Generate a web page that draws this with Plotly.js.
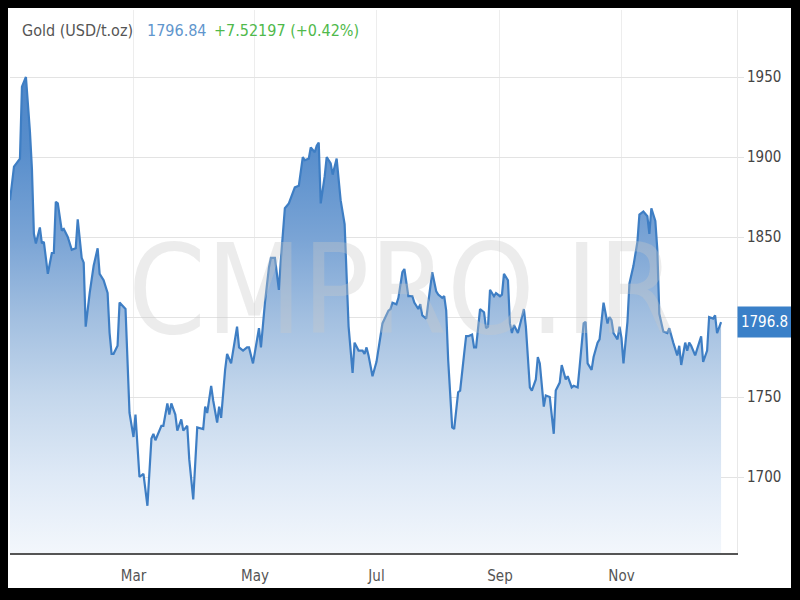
<!DOCTYPE html>
<html><head><meta charset="utf-8">
<script src="https://cdn.plot.ly/plotly-3.0.1.min.js"></script>
<style>
html,body{margin:0;padding:0;background:#000;width:800px;height:600px;overflow:hidden;}
#chart{position:absolute;left:8px;top:8px;width:783px;height:580px;background:#fff;}
</style></head><body><div id="chart"></div>
<script>
const dates = [
'2020-12-29','2020-12-31','2021-01-03','2021-01-04','2021-01-06','2021-01-07','2021-01-08','2021-01-09','2021-01-10','2021-01-11',
'2021-01-13','2021-01-14','2021-01-15','2021-01-17','2021-01-19','2021-01-20','2021-01-21','2021-01-22','2021-01-24','2021-01-25',
'2021-01-27','2021-01-29','2021-01-31','2021-02-01','2021-02-03','2021-02-04','2021-02-05','2021-02-07','2021-02-09','2021-02-11',
'2021-02-12','2021-02-14','2021-02-16','2021-02-17','2021-02-18','2021-02-19','2021-02-21','2021-02-22','2021-02-24','2021-02-25',
'2021-02-27','2021-03-01','2021-03-02','2021-03-04','2021-03-06','2021-03-08','2021-03-10','2021-03-11','2021-03-12','2021-03-15',
'2021-03-16','2021-03-18','2021-03-19','2021-03-20','2021-03-22','2021-03-23','2021-03-25','2021-03-26','2021-03-28','2021-03-29',
'2021-03-31','2021-04-02','2021-04-05','2021-04-06','2021-04-07','2021-04-09','2021-04-10','2021-04-12','2021-04-13','2021-04-14',
'2021-04-16','2021-04-17','2021-04-19','2021-04-22','2021-04-23','2021-04-25','2021-04-27','2021-04-28','2021-04-30','2021-05-03',
'2021-05-04','2021-05-06','2021-05-08','2021-05-09','2021-05-11','2021-05-13','2021-05-14','2021-05-16','2021-05-18','2021-05-20',
'2021-05-21','2021-05-23','2021-05-25','2021-05-26','2021-05-28','2021-05-29','2021-05-31','2021-06-01','2021-06-02','2021-06-03',
'2021-06-05','2021-06-06','2021-06-08','2021-06-09','2021-06-11','2021-06-13','2021-06-15','2021-06-17','2021-06-19','2021-06-20',
'2021-06-22','2021-06-24','2021-06-25','2021-06-26','2021-06-27','2021-06-29','2021-07-01','2021-07-03','2021-07-04','2021-07-07',
'2021-07-08','2021-07-09','2021-07-11','2021-07-12','2021-07-14','2021-07-15','2021-07-17','2021-07-19','2021-07-20','2021-07-22',
'2021-07-23','2021-07-24','2021-07-26','2021-07-27','2021-07-29','2021-07-31','2021-08-01','2021-08-03','2021-08-04','2021-08-05',
'2021-08-06','2021-08-08','2021-08-09','2021-08-11','2021-08-12','2021-08-14','2021-08-15','2021-08-16','2021-08-18','2021-08-19',
'2021-08-20','2021-08-22','2021-08-24','2021-08-25','2021-08-26','2021-08-27','2021-08-29','2021-08-30','2021-09-01','2021-09-02',
'2021-09-03','2021-09-05','2021-09-06','2021-09-07','2021-09-08','2021-09-10','2021-09-13','2021-09-14','2021-09-16','2021-09-17',
'2021-09-19','2021-09-20','2021-09-21','2021-09-23','2021-09-24','2021-09-26','2021-09-27','2021-09-28','2021-09-29','2021-10-01',
'2021-10-02','2021-10-04','2021-10-05','2021-10-07','2021-10-08','2021-10-10','2021-10-11','2021-10-13','2021-10-14','2021-10-15',
'2021-10-17','2021-10-18','2021-10-20','2021-10-21','2021-10-23','2021-10-25','2021-10-26','2021-10-27','2021-10-28','2021-10-30',
'2021-10-31','2021-11-01','2021-11-02','2021-11-04','2021-11-05','2021-11-07','2021-11-09','2021-11-10','2021-11-12','2021-11-14',
'2021-11-15','2021-11-16','2021-11-18','2021-11-19','2021-11-20','2021-11-22','2021-11-24','2021-11-25','2021-11-27','2021-11-29',
'2021-11-30','2021-12-01','2021-12-03','2021-12-04','2021-12-05','2021-12-06','2021-12-08','2021-12-10','2021-12-11','2021-12-12',
'2021-12-14','2021-12-15','2021-12-17','2021-12-18','2021-12-19','2021-12-21'
];
const prices = [
1873,1894,1899,1944,1950,1934,1916,1893,1852,1846,
1856,1846,1847,1827,1840,1840,1872,1871,1854,1855,
1850,1842,1843,1861,1837,1834,1794,1815,1832,1843,
1827,1823,1815,1790,1777,1777,1782,1809,1806,1805,
1740,1725,1739,1700,1702,1682,1724,1727,1723,1732,
1732,1746,1739,1746,1739,1729,1736,1729,1732,1711,
1686,1731,1730,1744,1740,1757,1748,1734,1744,1737,
1767,1777,1771,1794,1781,1779,1781,1781,1771,1793,
1781,1809,1831,1837,1837,1817,1836,1868,1871,1877,
1881,1882,1900,1898,1899,1906,1903,1907,1909,1871,
1888,1900,1896,1889,1899,1873,1858,1794,1765,1784,
1779,1779,1777,1781,1776,1763,1772,1788,1796,1804,
1805,1809,1808,1812,1828,1830,1813,1813,1809,1805,
1808,1801,1799,1809,1828,1816,1814,1812,1813,1804,
1773,1731,1730,1753,1754,1777,1788,1788,1789,1781,
1781,1805,1803,1793,1794,1817,1813,1815,1813,1814,
1827,1823,1796,1790,1795,1790,1805,1794,1756,1754,
1761,1775,1771,1744,1751,1750,1737,1727,1754,1759,
1770,1761,1763,1756,1757,1756,1769,1796,1797,1771,
1767,1775,1784,1786,1809,1796,1800,1798,1790,1786,
1794,1787,1771,1797,1821,1832,1847,1864,1866,1863,
1852,1868,1860,1842,1802,1791,1790,1793,1784,1776,
1782,1770,1784,1779,1784,1782,1776,1784,1788,1772,
1779,1800,1799,1801,1790,1796.84
];
const tickDates = ['2021-03-01','2021-05-01','2021-07-01','2021-09-01','2021-11-01'];
const tickLabels = ['Mar','May','Jul','Sep','Nov'];
const yTicks = [1700,1750,1800,1850,1900,1950];
const seriesName = 'Gold (USD/t.oz)';
const lastText = '1796.84';
const changeText = '+7.52197 (+0.42%)';
const watermark = 'CMPRO.IR';

const FONT = "'DejaVu Sans Condensed','Liberation Sans',sans-serif";
const px = x => (x - 10) / 727;
const py = y => (553 - y) / 543;
const lastPrice = prices[prices.length - 1];
// the tick label hidden behind the last-price box is left blank
const yTickText = yTicks.map(v => Math.abs(v - lastPrice) < 12 ? '' : String(v));

const trace = {
  type: 'scatter', mode: 'lines', x: dates, y: prices,
  line: {color: 'rgb(62,126,196)', width: 2.2},
  fill: 'tozeroy',
  fillgradient: {type: 'vertical', start: 1652, stop: 1960,
    colorscale: [[0, 'rgb(243,247,252)'], [0.16, 'rgb(222,233,246)'], [0.32, 'rgb(196,215,236)'],
                 [0.48, 'rgb(162,191,224)'], [0.64, 'rgb(122,164,213)'], [0.82, 'rgb(88,142,204)'], [1, 'rgb(75,132,199)']]},
  hoverinfo: 'skip'
};

const layout = {
  width: 783, height: 580,
  margin: {l: 2, r: 54, t: 2, b: 35},
  paper_bgcolor: '#fff', plot_bgcolor: '#fff',
  font: {family: FONT, size: 14, color: '#555'},
  showlegend: false,
  xaxis: {type: 'date', range: ['2020-12-29', '2021-12-29'], tickvals: tickDates, ticktext: tickLabels,
    showgrid: true, gridcolor: '#ededed', showline: true, linecolor: '#555', linewidth: 2,
    ticks: 'outside', ticklen: 8, tickcolor: 'rgba(0,0,0,0)', tickfont: {size: 15, color: '#555'},
    zeroline: false, fixedrange: true},
  yaxis: {side: 'right', range: [1652.5, 1991.9], tickvals: yTicks, ticktext: yTickText,
    showgrid: true, gridcolor: '#e3e3e3', showline: true, linecolor: '#e8e8e8', linewidth: 1,
    ticks: 'outside', ticklen: 6, tickcolor: '#e3e3e3', tickfont: {size: 15, color: '#444'},
    zeroline: false, fixedrange: true},
  annotations: [
    {xref: 'paper', yref: 'paper', x: px(402), y: py(290), text: watermark, showarrow: false,
     xanchor: 'center', yanchor: 'middle', font: {family: FONT, size: 124, color: 'rgba(200,200,200,0.35)'}},
    {xref: 'paper', yref: 'paper', x: px(20), y: py(30), text: seriesName, showarrow: false,
     xanchor: 'left', yanchor: 'middle', font: {family: FONT, size: 16, color: '#555'}},
    {xref: 'paper', yref: 'paper', x: px(145), y: py(30), text: lastText, showarrow: false,
     xanchor: 'left', yanchor: 'middle', font: {family: FONT, size: 16, color: 'rgb(95,150,205)'}},
    {xref: 'paper', yref: 'paper', x: px(212), y: py(30), text: changeText, showarrow: false,
     xanchor: 'left', yanchor: 'middle', font: {family: FONT, size: 16, color: 'rgb(80,185,75)'}},
    {xref: 'paper', yref: 'y', x: 1, y: lastPrice, text: lastPrice.toFixed(1), showarrow: false,
     xanchor: 'left', yanchor: 'middle', bgcolor: 'rgb(58,128,200)', borderpad: 0, width: 53, height: 30,
     font: {family: FONT, size: 15, color: '#fff'}}
  ]
};

Plotly.newPlot('chart', [trace], layout, {displayModeBar: false, staticPlot: true});
</script></body></html>
